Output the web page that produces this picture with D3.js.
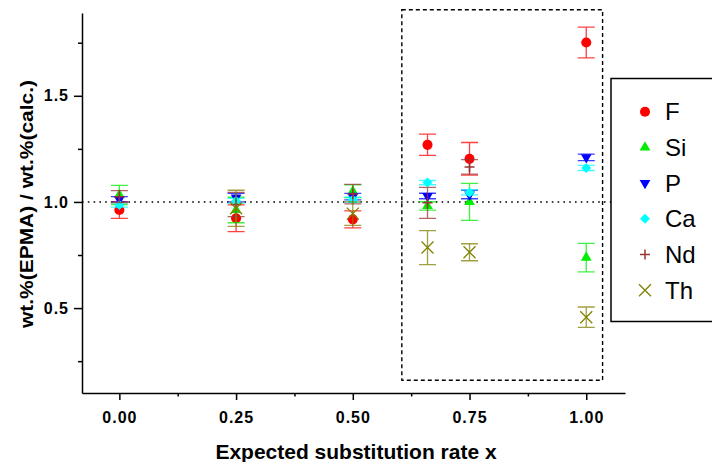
<!DOCTYPE html>
<html>
<head>
<meta charset="utf-8">
<script src="https://cdn.jsdelivr.net/npm/d3@7"></script>
<style>
  body { margin: 0; background: #fff; }
  text { font-family: "Liberation Sans", Arial, sans-serif; }
</style>
</head>
<body>
<div id="chart"></div>
<script>
var width = 712;
var height = 462;

// substitution rates x (the 0.66 group is 2/3)
var rates = [0, 0.25, 0.5, 0.66, 0.75, 1.0];

var elements = ["F", "Si", "P", "Ca", "Nd", "Th"];
var colors = ["#ff0000", "#00ee00", "#0000ff", "#00ffff", "#993333", "#808000"];

// ratio wt.%(EPMA) / wt.%(calc.) and its error, one list per element
var valF  = [0.962, 0.923, 0.918, 1.269, 1.203, 1.751];
var errF  = [0.039, 0.063, 0.040, 0.050, 0.077, 0.072];
var valSi = [1.033, 0.962, 1.050, 0.981, 1.000, 0.738];
var errSi = [0.045, 0.060, 0.030, 0.020, 0.087, 0.067];
var valP  = [1.012, 1.020, 1.025, 1.028, 1.035, 1.210];
var errP  = [0.013, 0.020, 0.015, 0.013, 0.020, 0.015];
var valCa = [0.986, 1.005, 1.010, 1.091, 1.045, 1.160];
var errCa = [0.010, 0.012, 0.012, 0.010, 0.012, 0.012];
var valNd = [1.025, 0.988, 1.037, 0.996, 1.165, null];
var errNd = [0.028, 0.057, 0.046, 0.073, 0.034, null];
var valTh = [null, 0.970, 0.945, 0.785, 0.763, 0.457];
var errTh = [null, 0.085, 0.055, 0.080, 0.040, 0.048];

var xTicks = [0, 0.25, 0.5, 0.75, 1.0];
var xMinor = [0.125, 0.375, 0.625, 0.875];
var yTicks = [0.5, 1.0, 1.5];
var yMinor = [0.25, 0.75, 1.25, 1.75];

// dashed box around the substituted samples, in data units
var boxX = [0.605, 1.035];
var boxY = [0.16, 1.905];

var values = [valF, valSi, valP, valCa, valNd, valTh];
var errors = [errF, errSi, errP, errCa, errNd, errTh];

var margin = { top: 13, right: 87, bottom: 69, left: 82 };

var x = d3.scaleLinear()
    .domain([-0.08, 1.083])
    .range([margin.left, width - margin.right]);

var y = d3.scaleLinear()
    .domain([0.1, 1.89])
    .range([height - margin.bottom, margin.top]);

var svg = d3.select("#chart")
    .append("svg")
    .attr("width", width)
    .attr("height", height);

// reference line at 1.0
svg.append("line")
    .attr("x1", x.range()[0])
    .attr("x2", x.range()[1])
    .attr("y1", y(1))
    .attr("y2", y(1))
    .attr("stroke", "#000")
    .attr("stroke-width", 1.6)
    .attr("stroke-dasharray", "1.6,4.2");

// dashed box
svg.append("rect")
    .attr("x", x(boxX[0]))
    .attr("y", y(boxY[1]))
    .attr("width", x(boxX[1]) - x(boxX[0]))
    .attr("height", y(boxY[0]) - y(boxY[1]))
    .attr("fill", "none")
    .attr("stroke", "#000")
    .attr("stroke-width", 1.4)
    .attr("stroke-dasharray", "4,3");

// axes
var xAxis = g => g
    .attr("transform", `translate(0,${y.range()[0]})`)
    .call(d3.axisBottom(x)
        .tickValues(xTicks)
        .tickFormat(d3.format(".2f"))
        .tickSize(7)
        .tickSizeOuter(0)
        .tickPadding(12));

var xAxisMinor = g => g
    .attr("transform", `translate(0,${y.range()[0]})`)
    .call(d3.axisBottom(x)
        .tickValues(xMinor)
        .tickFormat("")
        .tickSize(3.5)
        .tickSizeOuter(0))
    .call(g => g.select(".domain").remove());

var yAxis = g => g
    .attr("transform", `translate(${x.range()[0]},0)`)
    .call(d3.axisLeft(y)
        .tickValues(yTicks)
        .tickFormat(d3.format(".1f"))
        .tickSize(8)
        .tickSizeOuter(0)
        .tickPadding(5));

var yAxisMinor = g => g
    .attr("transform", `translate(${x.range()[0]},0)`)
    .call(d3.axisLeft(y)
        .tickValues(yMinor)
        .tickFormat("")
        .tickSize(4)
        .tickSizeOuter(0))
    .call(g => g.select(".domain").remove());

[xAxis, xAxisMinor, yAxis, yAxisMinor].forEach(function (a) {
    svg.append("g").call(a)
        .attr("font-size", 16)
        .call(g => g.selectAll("path, line").attr("stroke-width", 1.5))
        .call(g => g.selectAll("text")
            .attr("font-size", 16)
            .style("font-weight", "bold")
            .style("letter-spacing", "1px")
            .attr("fill", "#000"));
});

// axis titles
svg.append("text")
    .attr("x", 356)
    .attr("y", 459)
    .attr("text-anchor", "middle")
    .style("font-size", "21px")
    .style("font-weight", "bold")
    .text("Expected substitution rate x");

svg.append("text")
    .attr("transform", "translate(33,204) rotate(-90)")
    .attr("text-anchor", "middle")
    .attr("textLength", 248)
    .attr("lengthAdjust", "spacingAndGlyphs")
    .style("font-size", "19px")
    .style("font-weight", "bold")
    .text("wt.%(EPMA) / wt.%(calc.)");

// marker drawing
function drawMarker(g, i, color) {
    if (i === 0) {
        g.append("path").attr("d", d3.symbol(d3.symbolCircle, 80)()).attr("fill", color);
    } else if (i === 1) {
        g.append("path").attr("d", d3.symbol(d3.symbolTriangle, 50)()).attr("fill", color);
    } else if (i === 2) {
        g.append("path").attr("d", d3.symbol(d3.symbolTriangle, 50)())
            .attr("transform", "rotate(180)").attr("fill", color);
    } else if (i === 3) {
        g.append("path").attr("d", d3.symbol(d3.symbolSquare, 50)())
            .attr("transform", "rotate(45)").attr("fill", color);
    } else if (i === 4) {
        g.append("path").attr("d", "M-5,0H5M0,-5V5")
            .attr("stroke", color).attr("stroke-width", 1.5);
    } else {
        g.append("path").attr("d", "M-6,-6L6,6M-6,6L6,-6")
            .attr("stroke", color).attr("stroke-width", 1.3);
    }
}

var capW = 8.5;

elements.forEach(function (el, i) {
    var pts = rates.map((r, j) => ({ x: r, v: values[i][j], e: errors[i][j] }))
        .filter(d => d.v !== null);

    var grp = svg.append("g").attr("class", "series-" + el);

    // error bars
    grp.selectAll(".eb")
        .data(pts)
        .enter()
        .append("path")
        .attr("class", "eb")
        .attr("d", function (d) {
            var cx = x(d.x), y0 = y(d.v - d.e), y1 = y(d.v + d.e);
            return "M" + cx + "," + y0 + "V" + y1 +
                "M" + (cx - capW) + "," + y0 + "H" + (cx + capW) +
                "M" + (cx - capW) + "," + y1 + "H" + (cx + capW);
        })
        .attr("fill", "none")
        .attr("stroke", colors[i])
        .attr("stroke-opacity", 0.75)
        .attr("stroke-width", 1.3);

    grp.selectAll(".mk")
        .data(pts)
        .enter()
        .append("g")
        .attr("class", "mk")
        .attr("transform", d => "translate(" + x(d.x) + "," + y(d.v) + ")")
        .each(function () { drawMarker(d3.select(this), i, colors[i]); });
});

// legend
var legend = svg.append("g");

legend.append("rect")
    .attr("x", 611)
    .attr("y", 78.5)
    .attr("width", 102)
    .attr("height", 243)
    .attr("fill", "#fff")
    .attr("stroke", "#000")
    .attr("stroke-width", 1.5);

elements.forEach(function (el, i) {
    var row = legend.append("g")
        .attr("transform", "translate(645," + (111.7 + i * 35.7) + ")");
    drawMarker(row, i, colors[i]);
    row.append("text")
        .attr("x", 20)
        .attr("y", 8.5)
        .style("font-size", "24px")
        .text(el);
});
</script>
</body>
</html>
